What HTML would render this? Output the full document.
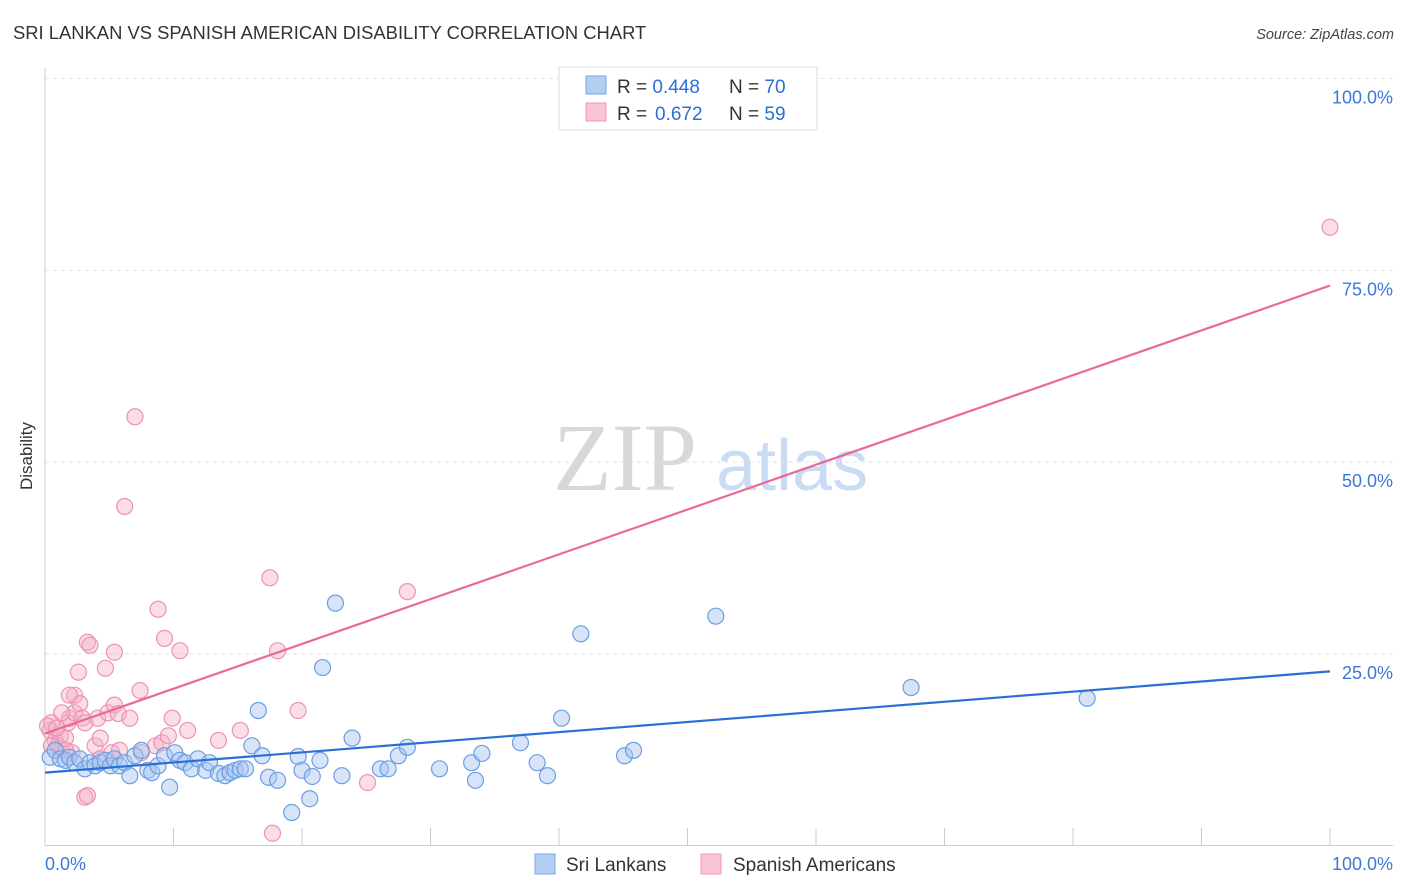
<!DOCTYPE html>
<html><head><meta charset="utf-8"><style>
body{margin:0;background:#fff;font-family:"Liberation Sans",sans-serif;}
svg{display:block}
</style></head><body>
<svg id="chart" width="1406" height="892" viewBox="0 0 1406 892" xmlns="http://www.w3.org/2000/svg">
<text x="13" y="39" font-size="18.4" fill="#333" font-family="Liberation Sans, sans-serif">SRI LANKAN VS SPANISH AMERICAN DISABILITY CORRELATION CHART</text>
<text x="1394" y="39" font-size="14.5" fill="#444" font-style="italic" text-anchor="end">Source: ZipAtlas.com</text>
<text x="553" y="490" font-size="96" fill="#d8d8d8" font-family="Liberation Serif, serif">ZIP</text>
<text x="716" y="490" font-size="72" fill="#c9dcf3">atlas</text>
<text transform="translate(32,456) rotate(-90)" font-size="17" fill="#333" text-anchor="middle">Disability</text>
<g id="grid"></g>
<g id="axes"></g>
<g id="points"></g>
<g id="lines"></g>
<g>
<rect x="559" y="67" width="258" height="63" fill="#fff" stroke="#ddd"/>
<rect x="586" y="76" width="20" height="18" fill="#b4cdf3" stroke="#7aa6e4"/>
<rect x="586" y="103" width="20" height="18" fill="#f8c3d3" stroke="#ee9ab7"/>
<text x="617" y="93" font-size="19" fill="#333">R = <tspan fill="#2a6fd6">0.448</tspan></text>
<text x="729" y="93" font-size="19" fill="#333">N = <tspan fill="#2a6fd6">70</tspan></text>
<text x="617" y="120" font-size="19" fill="#333">R = </text>
<text x="655" y="120" font-size="19" fill="#2a6fd6">0.672</text>
<text x="729" y="120" font-size="19" fill="#333">N = <tspan fill="#2a6fd6">59</tspan></text>
</g>
<g>
<rect x="535" y="854" width="20" height="20" fill="#b4cdf3" stroke="#7aa6e4"/>
<text x="566" y="871" font-size="19" fill="#333">Sri Lankans</text>
<rect x="701" y="854" width="20" height="20" fill="#f8c3d3" stroke="#ee9ab7"/>
<text x="733" y="871" font-size="19" fill="#333">Spanish Americans</text>
</g>
</svg>
<script>
const blueX=[0.4,0.8,1.2,1.6,1.9,2.3,2.7,3.1,3.5,3.9,4.3,4.7,5.1,5.4,5.8,6.2,6.6,7.0,7.5,8.0,8.3,8.8,9.3,9.7,10.1,10.5,10.9,11.4,11.9,12.5,12.8,13.5,14.0,14.4,14.8,15.2,15.6,16.1,16.6,16.9,17.4,18.1,19.2,19.7,20.0,20.6,20.8,21.4,21.6,22.6,23.1,23.9,26.1,26.7,27.5,28.2,30.7,33.2,33.5,34.0,37.0,38.3,39.1,40.2,41.7,45.1,45.8,52.2,67.4,81.1];
const blueY=[11.5,12.4,11.3,11.1,11.5,10.8,11.3,10.0,10.8,10.4,10.8,11.1,10.4,11.3,10.4,10.8,9.1,11.7,12.4,9.8,9.5,10.4,11.7,7.6,12.1,11.1,10.8,10.0,11.3,9.8,10.8,9.4,9.1,9.5,9.8,10.0,10.0,13.0,17.6,11.7,8.9,8.5,4.3,11.6,9.8,6.1,9.0,11.1,23.2,31.6,9.1,14.0,10.0,10.0,11.7,12.8,10.0,10.8,8.5,12.0,13.4,10.8,9.1,16.6,27.6,11.7,12.4,29.9,20.6,19.2];
const pinkX=[0.4,0.5,0.8,1.0,1.2,1.3,1.6,1.8,1.9,2.1,2.3,2.3,2.6,2.7,2.9,3.1,3.1,3.3,3.3,3.5,3.9,4.1,4.3,4.3,4.7,4.9,5.2,5.4,5.4,5.7,5.8,6.6,7.0,7.4,7.5,6.2,8.6,8.8,9.1,9.3,9.6,9.9,10.5,11.1,13.5,15.2,17.5,17.7,18.1,19.7,25.1,28.2,100,0.2,0.5,0.9,1.3,1.6,1.9];
const pinkY=[15.0,16.0,13.7,13.0,14.3,12.6,14.0,16.0,16.6,12.1,17.3,19.6,22.6,18.5,16.6,16.0,6.3,26.5,6.5,26.1,13.0,16.6,14.0,11.3,23.1,17.3,12.1,25.2,18.3,17.2,12.4,16.6,55.9,20.2,12.1,44.2,13.0,30.8,13.4,27.0,14.3,16.6,25.4,15.0,13.7,15.0,34.9,1.6,25.4,17.6,8.2,33.1,80.6,15.6,13.0,15.3,17.3,12.4,19.6];
const blueTrend=[9.5,22.7];
const pinkTrend=[14.6,73.0];
const yTicks=[25,50,75,100];
const yTickLabels=["25.0%","50.0%","75.0%","100.0%"];
const xTicks=[10,20,30,40,50,60,70,80,90,100];
const NS="http://www.w3.org/2000/svg";
const sx=v=>45+v*12.85, sy=v=>845.5-v*7.67;
function mk(tag,attrs,parent){const e=document.createElementNS(NS,tag);for(const k in attrs)e.setAttribute(k,attrs[k]);document.getElementById(parent).appendChild(e);return e;}
yTicks.forEach((t,i)=>{
 const g=mk('line',{x1:45,x2:1393,y1:sy(t),y2:sy(t),stroke:'#e2e2e2','stroke-dasharray':'4,4'},'grid');
 
 
 const l=mk('text',{x:1393,y:sy(t)+25,'font-size':18,fill:'#3d78d8','text-anchor':'end'},'grid');
 l.textContent=yTickLabels[i];
 
 
});
const ax=mk('line',{x1:45,x2:1393,y1:845.5,y2:845.5,stroke:'#ccc'},'axes');


const ay=mk('line',{x1:45,x2:45,y1:68,y2:845.5,stroke:'#ccc'},'axes');


xTicks.forEach(t=>{
 const k=mk('line',{x1:sx(t),x2:sx(t),y1:828,y2:845,stroke:'#ccc'},'axes');
 
 
});
const x0=mk('text',{x:45,y:870,'font-size':18,fill:'#3d78d8'},'axes');x0.textContent='0.0%';


const x1=mk('text',{x:1393,y:870,'font-size':18,fill:'#3d78d8','text-anchor':'end'},'axes');x1.textContent='100.0%';


function pts(X,Y,fill,stroke,name){X.forEach((x,i)=>{
 const c=mk('circle',{cx:sx(x),cy:sy(Y[i]),r:8,fill:fill,'fill-opacity':0.45,stroke:stroke,'stroke-width':1.2},'points');
 
 
});}
pts(pinkX,pinkY,'#f5b3c8','#ec93b2','spanish-american-point');
pts(blueX,blueY,'#a6c4ef','#6b9ee2','sri-lankan-point');
const bl=mk('line',{x1:sx(0),y1:sy(blueTrend[0]),x2:sx(100),y2:sy(blueTrend[1]),stroke:'#2a6fd6','stroke-width':2.2},'lines');


const pl=mk('line',{x1:sx(0),y1:sy(pinkTrend[0]),x2:sx(100),y2:sy(pinkTrend[1]),stroke:'#e8699a','stroke-width':2.2},'lines');


</script>
</body></html>
